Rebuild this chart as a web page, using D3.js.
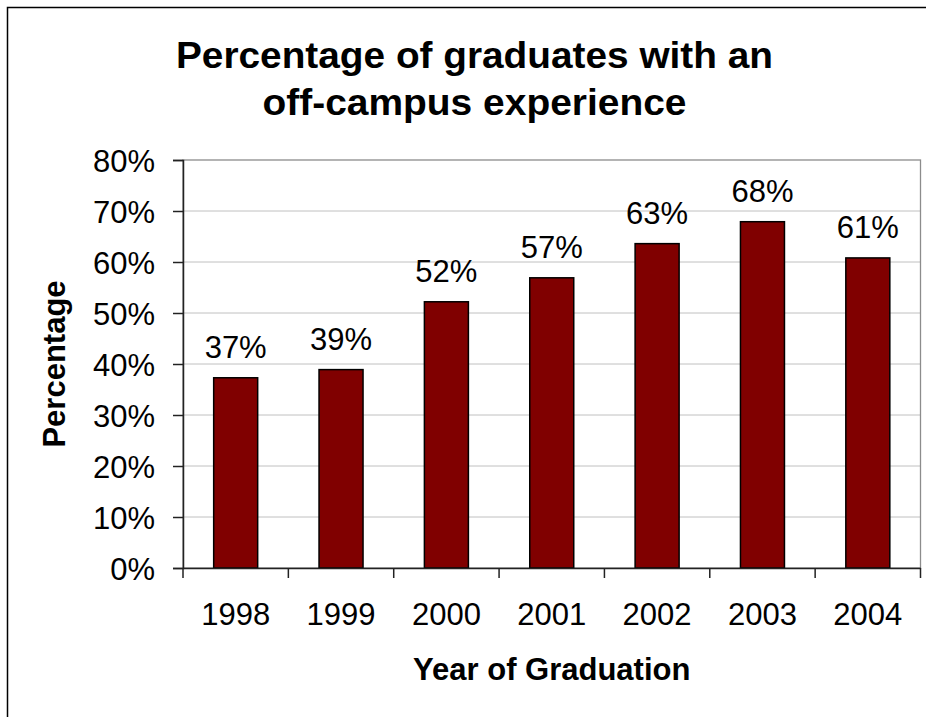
<!DOCTYPE html>
<html>
<head>
<meta charset="utf-8">
<script src="https://cdn.jsdelivr.net/npm/d3@7"></script>
<style>
  html, body { margin: 0; padding: 0; background: #fff; }
  svg { display: block; }
  text { font-family: "Liberation Sans", Arial, sans-serif; fill: #000; }
</style>
</head>
<body>
<svg id="chart" width="926" height="717"></svg>
<script>
const years = ["1998", "1999", "2000", "2001", "2002", "2003", "2004"];
const values = [37.3, 38.9, 52.2, 56.9, 63.6, 67.9, 60.8];
const valueLabels = ["37%", "39%", "52%", "57%", "63%", "68%", "61%"];
const yTicks = [0, 10, 20, 30, 40, 50, 60, 70, 80];
const titleLines = ["Percentage of graduates with an", "off-campus experience"];
const yTitle = "Percentage";
const xTitle = "Year of Graduation";

const svg = d3.select("#chart");
const W = 926, H = 717;
const plot = { left: 183, right: 920.5, top: 160, bottom: 568 };

// outer border (only top and left visible in frame)
svg.append("rect")
  .attr("x", 7.5).attr("y", 7.5)
  .attr("width", W + 20).attr("height", H + 20)
  .attr("fill", "#fff").attr("stroke", "#000").attr("stroke-width", 1.5);

const x = d3.scaleBand().domain(years).range([plot.left, plot.right]).paddingInner(0).paddingOuter(0);
const y = d3.scaleLinear().domain([0, 80]).range([plot.bottom, plot.top]);

// gridlines
svg.append("g").selectAll("line").data(yTicks.filter(d => d > 0 && d < 80)).join("line")
  .attr("x1", plot.left).attr("x2", plot.right)
  .attr("y1", d => y(d)).attr("y2", d => y(d))
  .attr("stroke", "#c0c0c0").attr("stroke-width", 1);

// plot area border (grey)
svg.append("rect")
  .attr("x", plot.left).attr("y", plot.top)
  .attr("width", plot.right - plot.left).attr("height", plot.bottom - plot.top)
  .attr("fill", "none").attr("stroke", "#8c8c8c").attr("stroke-width", 1.3);

// bars
const barW = 44;
svg.append("g").selectAll("rect").data(values).join("rect")
  .attr("x", (d, i) => x(years[i]) + x.bandwidth() / 2 - barW / 2)
  .attr("y", d => y(d))
  .attr("width", barW)
  .attr("height", d => y(0) - y(d))
  .attr("fill", "#800000")
  .attr("stroke", "#000").attr("stroke-width", 1.5);

// value labels
svg.append("g").selectAll("text").data(values).join("text")
  .attr("x", (d, i) => x(years[i]) + x.bandwidth() / 2)
  .attr("y", d => y(d) - 20)
  .attr("text-anchor", "middle")
  .attr("font-size", 31)
  .text((d, i) => valueLabels[i]);

// y axis
const yAxis = d3.axisLeft(y).tickValues(yTicks).tickFormat(d => d + "%").tickSize(10).tickPadding(18);
const gy = svg.append("g").attr("transform", `translate(${plot.left},0)`).call(yAxis);
gy.select(".domain").attr("stroke", "#222").attr("stroke-width", 1.5);
gy.selectAll(".tick line").attr("stroke", "#222").attr("stroke-width", 1.5);
gy.selectAll(".tick text").attr("font-size", 31).attr("font-family", "Liberation Sans, Arial, sans-serif").attr("fill", "#000").attr("dy", "0.36em");

// x axis
const xAxis = d3.axisBottom(x).tickSize(0).tickPadding(35);
const gx = svg.append("g").attr("transform", `translate(0,${plot.bottom})`).call(xAxis);
gx.select(".domain").attr("stroke", "#222").attr("stroke-width", 1.5);
gx.selectAll(".tick text").attr("font-size", 31).attr("font-family", "Liberation Sans, Arial, sans-serif").attr("fill", "#000");
// tick marks at category boundaries
const boundaries = years.map(d => x(d)).concat([plot.right]);
gx.append("g").selectAll("line").data(boundaries).join("line")
  .attr("x1", d => d).attr("x2", d => d)
  .attr("y1", 0).attr("y2", 10)
  .attr("stroke", "#222").attr("stroke-width", 1.5);

// title
const titleWidths = [597, 424];
const title = svg.append("g");
title.selectAll("text").data(titleLines).join("text")
  .attr("x", 474.5)
  .attr("y", (d, i) => 68 + i * 47)
  .attr("text-anchor", "middle")
  .attr("font-size", 36)
  .attr("font-weight", "bold")
  .attr("textLength", (d, i) => titleWidths[i])
  .attr("lengthAdjust", "spacingAndGlyphs")
  .text(d => d);

// axis titles
svg.append("text")
  .attr("transform", `translate(65,${(plot.top + plot.bottom) / 2}) rotate(-90)`)
  .attr("text-anchor", "middle")
  .attr("font-size", 31)
  .attr("font-weight", "bold")
  .text(yTitle);

svg.append("text")
  .attr("x", (plot.left + plot.right) / 2)
  .attr("y", 680)
  .attr("text-anchor", "middle")
  .attr("font-size", 31)
  .attr("font-weight", "bold")
  .text(xTitle);
</script>
</body>
</html>
